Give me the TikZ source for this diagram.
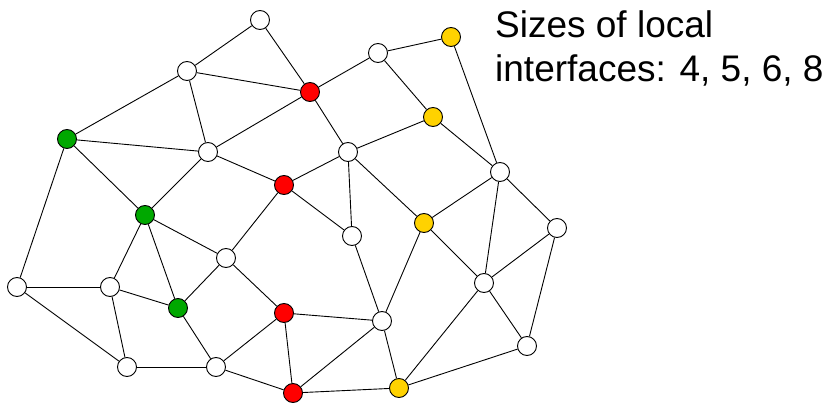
\documentclass[tikz,border=0pt]{standalone}
\usepackage{fontspec}
\setmainfont{Liberation Sans}
\definecolor{ngreen}{RGB}{0,168,0}
\definecolor{nred}{RGB}{255,0,0}
\definecolor{nyellow}{RGB}{255,210,0}
\begin{document}
\begin{tikzpicture}[x=1pt,y=-1pt,
  vtx/.style={circle,draw=black,line width=0.9pt,minimum size=19pt,inner sep=0pt,fill=white},
  gv/.style={vtx,fill=ngreen},
  rv/.style={vtx,fill=nred},
  yv/.style={vtx,fill=nyellow},
  edge/.style={line width=0.9pt,black}]
\useasboundingbox (0,0) rectangle (831,404);
\node[vtx] (A) at (260,20) {};
\node[vtx] (B) at (187,71) {};
\node[rv]  (C) at (310,92) {};
\node[vtx] (D) at (378,53) {};
\node[yv]  (E) at (451,37) {};
\node[gv]  (F) at (67,139) {};
\node[vtx] (G) at (208,152) {};
\node[yv]  (H) at (433,117) {};
\node[vtx] (I) at (348,152) {};
\node[rv]  (J) at (284,185) {};
\node[vtx] (K) at (500,172) {};
\node[gv]  (L) at (145,215) {};
\node[yv]  (M) at (424,223) {};
\node[vtx] (N) at (352,236) {};
\node[vtx] (O) at (557,228) {};
\node[vtx] (P) at (226,258) {};
\node[vtx] (Q) at (17,287) {};
\node[vtx] (R) at (110,287) {};
\node[vtx] (S) at (484,283) {};
\node[gv]  (T) at (178,308) {};
\node[rv]  (U) at (284,313) {};
\node[vtx] (V) at (382,321) {};
\node[vtx] (W) at (527,346) {};
\node[vtx] (X) at (127,367) {};
\node[vtx] (Y) at (216,367) {};
\node[rv]  (Z) at (293,393) {};
\node[yv]  (AA) at (399,388) {};
\foreach \a/\b in {A/B,A/C,B/F,B/G,B/C,F/G,G/C,G/J,G/L,F/L,F/Q,C/D,C/I,D/E,D/H,E/K,H/I,H/K,
  I/J,I/N,I/M,J/N,J/P,K/M,K/S,K/O,L/R,L/T,L/P,R/Q,R/T,R/X,Q/X,P/T,P/U,T/Y,X/Y,Y/U,Y/Z,
  U/Z,U/V,N/V,M/V,M/S,S/O,S/W,S/AA,O/W,W/AA,V/Z,V/AA,Z/AA}
  \draw[edge] (\a) -- (\b);
\node[anchor=base west,inner sep=0pt,font=\fontsize{37}{44}\selectfont,align=left] (T1) at (495,82) {Sizes of local\\interfaces: 4, 5, 6, 8};
\end{tikzpicture}
\end{document}
